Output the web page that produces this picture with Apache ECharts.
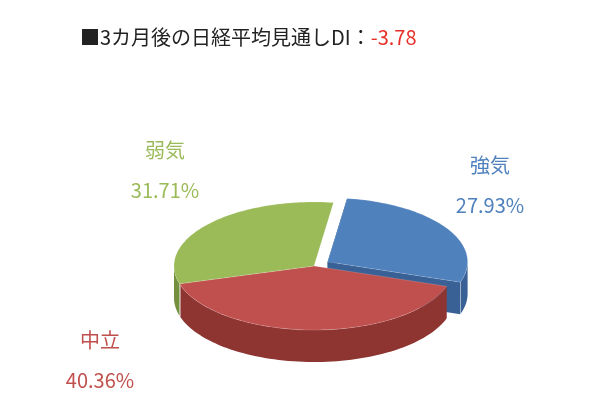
<!DOCTYPE html>
<html><head><meta charset="utf-8">
<script src="https://cdn.jsdelivr.net/npm/echarts@6/dist/echarts.min.js"></script>
<style>html,body{margin:0;background:#fff}#c{width:600px;height:419px}</style></head>
<body><div id="c"></div>
<script>
const categories = ['強気','中立','弱気'];
const values = [27.93, 40.36, 31.71];
const titleText = '■3カ月後の日経平均見通しDI：';
const diValue = '-3.78';

const topColors = ['#4F81BD','#C0504D','#9BBB59'];
const sideColors = ['#3A6195','#8E3532','#74903F'];
const labelColors = ['#4F81BD','#C0504D','#9BBB59'];
const labelPos = [[490,185],[100,360],[165,170]];
const explode = [16,0,0];
const G = {cx:314, cy:266, rx:140, ry:64, depth:32, start:8};
const total = values.reduce((a,b)=>a+b,0);
const angles = []; let acc = G.start;
values.forEach(v=>{const a0=acc; acc+=v/total*360; angles.push([a0,acc]);});
function pt(th, ox, oy, dy){const r=th*Math.PI/180;return [G.cx+ox+G.rx*Math.sin(r), G.cy+oy+dy-G.ry*Math.cos(r)];}
function offs(i){const m=(angles[i][0]+angles[i][1])/2*Math.PI/180;return [explode[i]*Math.sin(m), -explode[i]*Math.cos(m)*0.5];}
function sideItem(params, api){
  const i=api.value(0); const [a0,a1]=angles[i]; const [ox,oy]=offs(i);
  const children=[];
  const segs=[[90,270],[450,630]];
  segs.forEach(([s,e])=>{const lo=Math.max(a0,s), hi=Math.min(a1,e); if(hi>lo){
    const top=[],bot=[];for(let t=lo;t<=hi+0.001;t+=2){top.push(pt(Math.min(t,hi),ox,oy,0));bot.unshift(pt(Math.min(t,hi),ox,oy,G.depth));}
    children.push({type:'polygon',shape:{points:top.concat(bot)},style:{fill:sideColors[i]}});}});
  if(explode[i]>0){[a0,a1].forEach(a=>{const c=[G.cx+ox,G.cy+oy],p=pt(a,ox,oy,0);
    children.push({type:'polygon',shape:{points:[c,p,[p[0],p[1]+G.depth],[c[0],c[1]+G.depth]]},style:{fill:sideColors[i]}});});}
  return {type:'group',children};
}
function topItem(params, api){
  const i=api.value(0); const [a0,a1]=angles[i]; const [ox,oy]=offs(i);
  const pts=[[G.cx+ox,G.cy+oy]]; for(let t=a0;t<=a1+0.001;t+=1.5)pts.push(pt(Math.min(t,a1),ox,oy,0)); pts.push(pt(a1,ox,oy,0));
  return {type:'group',children:[
    {type:'polygon',shape:{points:pts},style:{fill:topColors[i],stroke:'rgba(255,255,255,0.3)',lineWidth:0.5}},
    {type:'text',x:labelPos[i][0],y:labelPos[i][1],style:{text:categories[i]+'\n'+values[i].toFixed(2)+'%',fill:labelColors[i],font:'20px "Noto Sans CJK JP", sans-serif',align:'center',verticalAlign:'middle',lineHeight:40}}
  ]};
}
const data=values.map((v,i)=>[i,v]);
const chart=echarts.init(document.getElementById('c'));
chart.setOption({
  animation:false,
  title:{text:'{a|'+titleText+'}{b|'+diValue+'}',left:75,top:22,textStyle:{rich:{a:{fontSize:20,fontWeight:'normal',color:'#222',fontFamily:'Noto Sans CJK JP'},b:{fontSize:20,fontWeight:'normal',color:'#E8302A',fontFamily:'Noto Sans CJK JP'}}}},
  series:[
    {type:'custom',coordinateSystem:'none',renderItem:sideItem,data:data,z:1},
    {type:'custom',coordinateSystem:'none',renderItem:topItem,data:data,z:2}
  ]
});
</script></body></html>
